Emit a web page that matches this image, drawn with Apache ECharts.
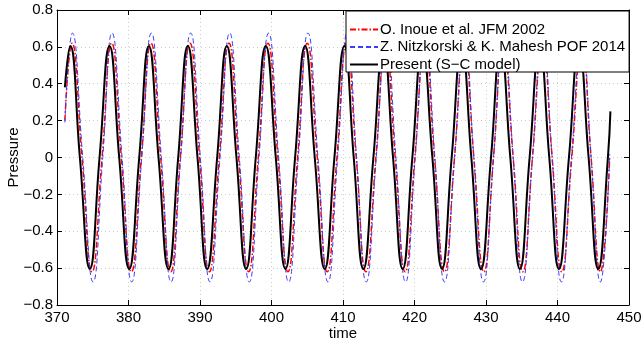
<!DOCTYPE html>
<html>
<head>
<meta charset="utf-8">
<script src="https://cdn.jsdelivr.net/npm/echarts@6/dist/echarts.min.js"></script>
<style>html,body{margin:0;padding:0;background:#fff}#c{width:643px;height:343px}</style>
</head>
<body>
<div id="c"></div>
<script>
// O. Inoue et al. JFM 2002 (red dash-dot)
const inoueTime = [371.1, 372.1, 373.5, 374.9, 376.3, 377.65, 379.0, 380.4, 381.8, 383.15, 384.5, 385.9, 387.25, 388.6, 389.95, 391.3, 392.7, 394.05, 395.4, 396.8, 398.15, 399.5, 400.9, 402.3, 403.65, 405.0, 406.4, 407.8, 409.15, 410.5, 411.85, 413.2, 414.6, 415.95, 417.3, 418.7, 420.05, 421.45, 422.8, 424.2, 425.6, 426.95, 428.3, 429.7, 431.05, 432.4, 433.8, 435.15, 436.5, 437.9, 439.25, 440.6, 442.0, 443.4, 444.7, 446.0, 447.3];
const inouePressure = [0.2, 0.62, 0, -0.62, 0, 0.62, 0, -0.62, 0, 0.62, 0, -0.62, 0, 0.62, 0, -0.62, 0, 0.62, 0, -0.62, 0, 0.62, 0, -0.62, 0, 0.62, 0, -0.62, 0, 0.62, 0, -0.62, 0, 0.62, 0, -0.62, 0, 0.62, 0, -0.62, 0, 0.62, 0, -0.62, 0, 0.62, 0, -0.62, 0, 0.62, 0, -0.62, 0, 0.62, 0, -0.62, 0.0];
// Z. Nitzkorski & K. Mahesh POF 2014 (blue dashed)
const nitzTime = [371.1, 372.15, 373.6, 375.05, 376.4, 377.7, 379.1, 380.45, 381.85, 383.2, 384.6, 385.95, 387.3, 388.7, 390.05, 391.4, 392.8, 394.15, 395.5, 396.9, 398.25, 399.6, 401.0, 402.4, 403.75, 405.1, 406.5, 407.9, 409.25, 410.6, 411.9, 413.25, 414.65, 416.05, 417.4, 418.75, 420.1, 421.5, 422.85, 424.2, 425.6, 427.0, 428.3, 429.65, 431.05, 432.45, 433.8, 435.1, 436.5, 437.9, 439.25, 440.55, 441.95, 443.4, 444.7, 446.0, 447.3];
const nitzPressure = [0.19, 0.675, 0, -0.675, 0, 0.675, 0, -0.675, 0, 0.675, 0, -0.675, 0, 0.675, 0, -0.675, 0, 0.675, 0, -0.675, 0, 0.675, 0, -0.675, 0, 0.675, 0, -0.675, 0, 0.675, 0, -0.675, 0, 0.675, 0, -0.675, 0, 0.675, 0, -0.675, 0, 0.675, 0, -0.675, 0, 0.675, 0, -0.675, 0, 0.675, 0, -0.675, 0, 0.675, 0, -0.675, 0.02];
// Present (S-C model) (black solid)
const presentTime = [371.1, 371.85, 373.2, 374.6, 375.95, 377.35, 378.7, 380.1, 381.5, 382.85, 384.2, 385.6, 386.95, 388.3, 389.65, 391.0, 392.4, 393.75, 395.1, 396.45, 397.8, 399.2, 400.6, 401.95, 403.3, 404.7, 406.05, 407.45, 408.8, 410.2, 411.5, 412.85, 414.25, 415.65, 417.0, 418.35, 419.7, 421.1, 422.5, 423.85, 425.2, 426.6, 427.95, 429.3, 430.7, 432.05, 433.4, 434.75, 436.1, 437.5, 438.85, 440.2, 441.6, 443.0, 444.35, 445.7, 447.05, 447.4];
const presentPressure = [0.38, 0.605, 0, -0.605, 0, 0.605, 0, -0.605, 0, 0.605, 0, -0.605, 0, 0.605, 0, -0.605, 0, 0.605, 0, -0.605, 0, 0.605, 0, -0.605, 0, 0.605, 0, -0.605, 0, 0.605, 0, -0.605, 0, 0.605, 0, -0.605, 0, 0.605, 0, -0.605, 0, 0.605, 0, -0.605, 0, 0.605, 0, -0.605, 0, 0.605, 0, -0.605, 0, 0.605, 0, -0.605, 0, 0.25];

const seriesNames = ['O. Inoue et al. JFM 2002', 'Z. Nitzkorski & K. Mahesh POF 2014', 'Present (S\u2212C model)'];
const xTicks = [370, 380, 390, 400, 410, 420, 430, 440, 450];
const yTicks = [-0.8, -0.6, -0.4, -0.2, 0, 0.2, 0.4, 0.6, 0.8];

const zip = (a, b) => a.map((v, i) => [v, b[i]]);
const FONT = 'Liberation Sans, Arial, sans-serif';
const fmtY = v => {
  const r = Math.round(v * 10) / 10;
  if (r === 0) return '0';
  return (r < 0 ? '\u2212' : '') + Math.abs(r).toFixed(1);
};

const chart = echarts.init(document.getElementById('c'), null, {renderer: 'canvas'});
const axisLine = {show: true, onZero: false, lineStyle: {color: '#000', width: 1}};
const tick = {show: true, inside: true, length: 5, lineStyle: {color: '#000'}};
chart.setOption({
  animation: false,
  backgroundColor: '#fff',
  grid: {left: 57, right: 14, top: 10, bottom: 38, containLabel: false, outerBoundsMode: 'none'},
  legend: {
    orient: 'vertical',
    left: 346, top: 11,
    z: 50,
    data: seriesNames,
    backgroundColor: '#fff',
    borderColor: '#000', borderWidth: 1, borderRadius: 0,
    padding: [11, 4, 0, 3],
    itemWidth: 28, itemHeight: 15, itemGap: 2.5,
    itemStyle: {opacity: 0},
    textStyle: {fontFamily: FONT, fontSize: 15, color: '#000', padding: [0, 0, 0, -3]}
  },
  xAxis: [{
    type: 'value', min: xTicks[0], max: xTicks[xTicks.length - 1], interval: 10,
    name: 'time', nameLocation: 'middle', nameGap: 21, nameMoveOverlap: false,
    nameTextStyle: {fontFamily: FONT, fontSize: 15, color: '#000'},
    axisLine: axisLine, axisTick: tick,
    axisLabel: {fontFamily: FONT, fontSize: 15, color: '#000', margin: 5},
    splitLine: {show: true, lineStyle: {color: '#cfcfcf', type: [1, 3], width: 1}}
  }, {
    type: 'value', position: 'top', min: xTicks[0], max: xTicks[xTicks.length - 1], interval: 10,
    axisLine: axisLine, axisTick: tick, axisLabel: {show: false}, splitLine: {show: false}
  }],
  yAxis: [{
    type: 'value', min: yTicks[0], max: yTicks[yTicks.length - 1], interval: 0.2,
    name: 'Pressure', nameLocation: 'middle', nameGap: 36, nameMoveOverlap: false,
    nameTextStyle: {fontFamily: FONT, fontSize: 15, color: '#000'},
    axisLine: axisLine, axisTick: tick,
    axisLabel: {fontFamily: FONT, fontSize: 15, color: '#000', margin: 4, formatter: fmtY},
    splitLine: {show: true, lineStyle: {color: '#cfcfcf', type: [1, 3], width: 1}}
  }, {
    type: 'value', position: 'right', min: yTicks[0], max: yTicks[yTicks.length - 1], interval: 0.2,
    axisLine: axisLine, axisTick: tick, axisLabel: {show: false}, splitLine: {show: false}
  }],
  series: [{
    name: seriesNames[0], type: 'line', smooth: 0.5, symbol: 'none',
    data: zip(inoueTime, inouePressure),
    lineStyle: {color: '#ff0000', width: 1.5, type: [6, 2, 1.5, 2]},
    itemStyle: {color: '#ff0000'}, z: 3
  }, {
    name: seriesNames[1], type: 'line', smooth: 0.5, symbol: 'none',
    data: zip(nitzTime, nitzPressure),
    lineStyle: {color: '#3b3bff', width: 1, type: [5, 3]},
    itemStyle: {color: '#3b3bff'}, z: 3
  }, {
    name: seriesNames[2], type: 'line', smooth: 0.5, symbol: 'none',
    data: zip(presentTime, presentPressure),
    lineStyle: {color: '#000', width: 2, type: 'solid'},
    itemStyle: {color: '#000'}, z: 4
  }]
});
</script>
</body>
</html>
